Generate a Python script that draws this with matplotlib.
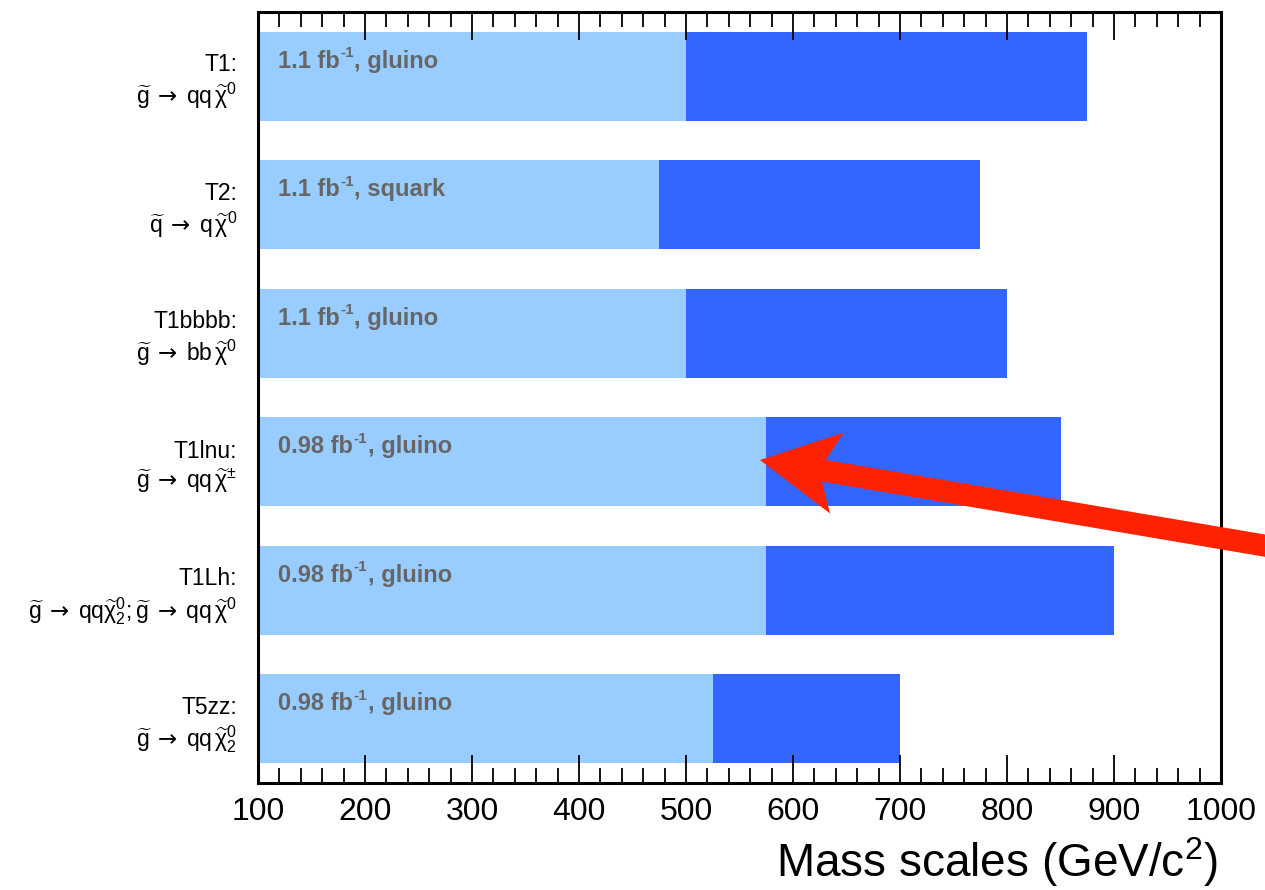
import matplotlib
matplotlib.use("Agg")
import matplotlib.pyplot as plt
from matplotlib.patches import FancyArrow
from matplotlib.ticker import MultipleLocator

plt.rcParams['font.family'] = ['Liberation Sans', 'DejaVu Sans']
plt.rcParams['mathtext.fontset'] = 'custom'
plt.rcParams['mathtext.rm'] = 'Liberation Sans'
plt.rcParams['mathtext.it'] = 'Liberation Sans'
plt.rcParams['mathtext.bf'] = 'Liberation Sans:bold'
plt.rcParams['mathtext.sf'] = 'DejaVu Sans'

# ---- data ----
G = "\\widetilde{\\mathrm{g}}"
Q = "\\widetilde{\\mathrm{q}}"
CHI = "\\widetilde{\\mathrm{\\chi}}"
ARROW = "\\;\\mathsf{\\rightarrow}\\;"
topologies = [
    "T1:\n$" + G + ARROW + "\\mathrm{qq}\\," + CHI + "^{0}$",
    "T2:\n$" + Q + ARROW + "\\mathrm{q}\\," + CHI + "^{0}$",
    "T1bbbb:\n$" + G + ARROW + "\\mathrm{bb}\\," + CHI + "^{0}$",
    "T1lnu:\n$" + G + ARROW + "\\mathrm{qq}\\," + CHI + "^{\\pm}$",
    "T1Lh:\n$" + G + ARROW + "\\mathrm{qq}" + CHI + "^{0}_{2}; " + G
    + ARROW + "\\mathrm{qq}\\," + CHI + "^{0}$",
    "T5zz:\n$" + G + ARROW + "\\mathrm{qq}\\," + CHI + "^{0}_{2}$",
]
lumi = ["1.1", "1.1", "1.1", "0.98", "0.98", "0.98"]
particle = ["gluino", "squark", "gluino", "gluino", "gluino", "gluino"]
light_limit = [500, 475, 500, 575, 575, 525]   # light-blue segment end
dark_limit = [875, 775, 800, 850, 900, 700]    # dark-blue segment end
x_min, x_max = 100, 1000
x_label = "Mass scales (GeV/c$^{2}$)"

LIGHT = "#99CCFF"
DARK = "#3366FF"
TEXTGRAY = "#666666"
RED = "#FF2200"

fig = plt.figure(figsize=(12.65, 8.9), dpi=100)
ax = fig.add_axes([258/1265, 107/890, (1221-258)/1265, (878-107)/890])

n = len(topologies)
ypos = [i + 0.5 for i in range(n)]
h = 0.69
ax.barh(ypos, [l - x_min for l in light_limit], left=x_min, height=h,
        color=LIGHT, zorder=1)
ax.barh(ypos, [d - l for d, l in zip(dark_limit, light_limit)], left=light_limit,
        height=h, color=DARK, zorder=1)

fig.canvas.draw()
renderer = fig.canvas.get_renderer()
for y, lu, pa in zip(ypos, lumi, particle):
    kw = dict(fontsize=17, fontweight='bold', color=TEXTGRAY, zorder=3)
    t1 = ax.annotate(lu + " fb", xy=(x_min, y), xytext=(20, 8.5),
                     textcoords='offset pixels', ha='left', va='baseline', **kw)
    w1 = t1.get_window_extent(renderer).width
    t2 = ax.annotate("-1", xy=(x_min, y), xytext=(20 + w1 + 1, 19),
                     textcoords='offset pixels', ha='left', va='baseline',
                     fontsize=11, fontweight='bold', color=TEXTGRAY, zorder=3)
    w2 = t2.get_window_extent(renderer).width
    ax.annotate(", " + pa, xy=(x_min, y), xytext=(20 + w1 + w2 + 1, 8.5),
                textcoords='offset pixels', ha='left', va='baseline', **kw)

ax.set_xlim(x_min, x_max)
ax.set_ylim(n, 0)
ax.set_yticks(ypos)
ax.set_yticklabels(topologies, fontsize=16.5, multialignment='right',
                   linespacing=1.2)
ax.tick_params(axis='y', length=0, pad=15)

ax.xaxis.set_major_locator(MultipleLocator(100))
ax.xaxis.set_minor_locator(MultipleLocator(20))
ax.tick_params(axis='x', which='major', direction='in', top=True, bottom=True,
               length=20, width=1.3, labelsize=23, pad=10)
ax.tick_params(axis='x', which='minor', direction='in', top=True, bottom=True,
               length=10.5, width=1.3)
for s in ax.spines.values():
    s.set_linewidth(2.2)
ax.set_axisbelow(False)

fig.text(1218/1265, 1 - 862/890, x_label, ha='right', va='center', fontsize=33)

# red annotation arrow (in inches, isotropic)
tail = (13.2, (890 - 555) / 100)
tip = (7.60, (890 - 460) / 100)
arr = FancyArrow(tail[0], tail[1], tip[0] - tail[0], tip[1] - tail[1],
                 width=0.22, head_width=0.82, head_length=0.78, overhang=0.17,
                 length_includes_head=True, color=RED, lw=0,
                 transform=fig.dpi_scale_trans, clip_on=False, zorder=10)
fig.add_artist(arr)

fig.savefig("out.png", dpi=100)
